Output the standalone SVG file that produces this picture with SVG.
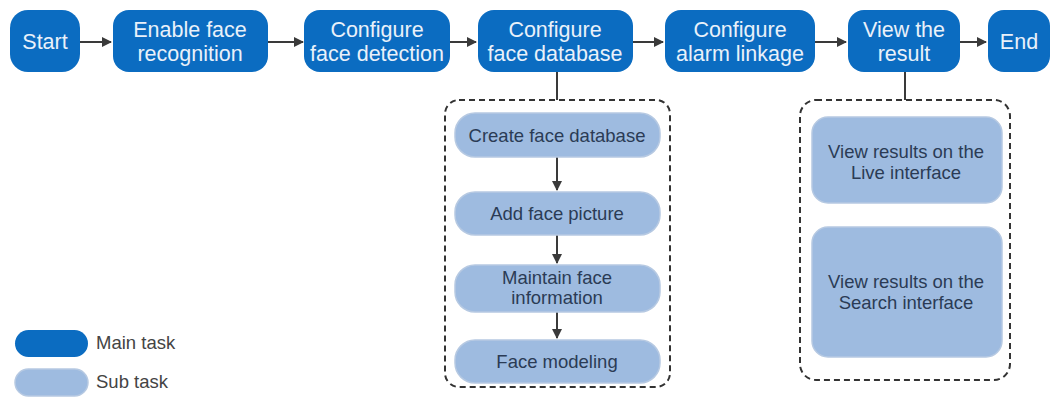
<svg xmlns="http://www.w3.org/2000/svg" width="1055" height="397" viewBox="0 0 1055 397">
<defs>
<style>
.main{fill:#0b6cc1;}
.sub{fill:#9ebbe0;stroke:#b6c9e2;stroke-width:1.5;}
.mt{font-family:"Liberation Sans",Arial,sans-serif;font-size:21.5px;fill:#e9f1fa;text-anchor:middle;}
.st{font-family:"Liberation Sans",Arial,sans-serif;font-size:18.5px;fill:#2b3b55;text-anchor:middle;}
.lt{font-family:"Liberation Sans",Arial,sans-serif;font-size:18.5px;fill:#444;}
.c{stroke:#3a3a3a;stroke-width:2;fill:none;}
.dash{fill:none;stroke:#333;stroke-width:2;stroke-dasharray:6,4;}
</style>
<marker id="ah" viewBox="0 0 10 10" refX="9" refY="5" markerWidth="5" markerHeight="5" orient="auto" markerUnits="strokeWidth">
<path d="M0,0 L10,5 L0,10 z" fill="#3a3a3a"/>
</marker>
</defs>
<rect width="1055" height="397" fill="#ffffff"/>

<g id="connectors">
<line class="c" x1="80" y1="42" x2="111" y2="42" marker-end="url(#ah)"/>
<line class="c" x1="268" y1="42" x2="303" y2="42" marker-end="url(#ah)"/>
<line class="c" x1="450" y1="42" x2="476" y2="42" marker-end="url(#ah)"/>
<line class="c" x1="633" y1="42" x2="663" y2="42" marker-end="url(#ah)"/>
<line class="c" x1="815" y1="42" x2="846" y2="42" marker-end="url(#ah)"/>
<line class="c" x1="960" y1="42" x2="986" y2="42" marker-end="url(#ah)"/>
<line class="c" x1="557" y1="72" x2="557" y2="100"/>
<line class="c" x1="905" y1="72" x2="905" y2="100"/>
<line class="c" x1="557" y1="157" x2="557" y2="190" marker-end="url(#ah)"/>
<line class="c" x1="557" y1="235" x2="557" y2="263" marker-end="url(#ah)"/>
<line class="c" x1="557" y1="312" x2="557" y2="338" marker-end="url(#ah)"/>
</g>

<g id="start"><rect class="main" x="10" y="10" width="70" height="62" rx="18"/><text class="mt" x="45" y="49">Start</text></g>
<g id="enable"><rect class="main" x="113" y="10" width="155" height="62" rx="16"/><text class="mt" x="190" y="37">Enable face</text><text class="mt" x="190" y="61">recognition</text></g>
<g id="detection"><rect class="main" x="304" y="10" width="146" height="62" rx="16"/><text class="mt" x="377" y="37">Configure</text><text class="mt" x="377" y="61">face detection</text></g>
<g id="database"><rect class="main" x="478" y="10" width="155" height="62" rx="16"/><text class="mt" x="555" y="37">Configure</text><text class="mt" x="555" y="61">face database</text></g>
<g id="alarm"><rect class="main" x="665" y="10" width="150" height="62" rx="16"/><text class="mt" x="740" y="37">Configure</text><text class="mt" x="740" y="61">alarm linkage</text></g>
<g id="result"><rect class="main" x="848" y="10" width="112" height="62" rx="16"/><text class="mt" x="904" y="37">View the</text><text class="mt" x="904" y="61">result</text></g>
<g id="end"><rect class="main" x="988" y="10" width="62" height="62" rx="16"/><text class="mt" x="1019" y="49">End</text></g>

<g id="group-database"><rect class="dash" x="445" y="100" width="225" height="287" rx="14"/></g>
<g id="create"><rect class="sub" x="455" y="113" width="205" height="44" rx="20"/><text class="st" x="557" y="142">Create face database</text></g>
<g id="add"><rect class="sub" x="455" y="192" width="205" height="43" rx="20"/><text class="st" x="557" y="220">Add face picture</text></g>
<g id="maintain"><rect class="sub" x="455" y="265" width="205" height="47" rx="20"/><text class="st" x="557" y="284">Maintain face</text><text class="st" x="557" y="304">information</text></g>
<g id="modeling"><rect class="sub" x="455" y="340" width="205" height="43" rx="20"/><text class="st" x="557" y="368">Face modeling</text></g>

<g id="group-result"><rect class="dash" x="800" y="100" width="210" height="280" rx="16"/></g>
<g id="live"><rect class="sub" x="812" y="117" width="190" height="86" rx="16"/><text class="st" x="906" y="158">View results on the</text><text class="st" x="906" y="179">Live interface</text></g>
<g id="search"><rect class="sub" x="812" y="227" width="190" height="130" rx="16"/><text class="st" x="906" y="288">View results on the</text><text class="st" x="906" y="309">Search interface</text></g>

<g id="legend-main"><rect class="main" x="15" y="330" width="73" height="27" rx="13.5"/><text class="lt" x="96" y="349">Main task</text></g>
<g id="legend-sub"><rect class="sub" x="15" y="369" width="73" height="27" rx="13.5"/><text class="lt" x="96" y="388">Sub task</text></g>
</svg>
